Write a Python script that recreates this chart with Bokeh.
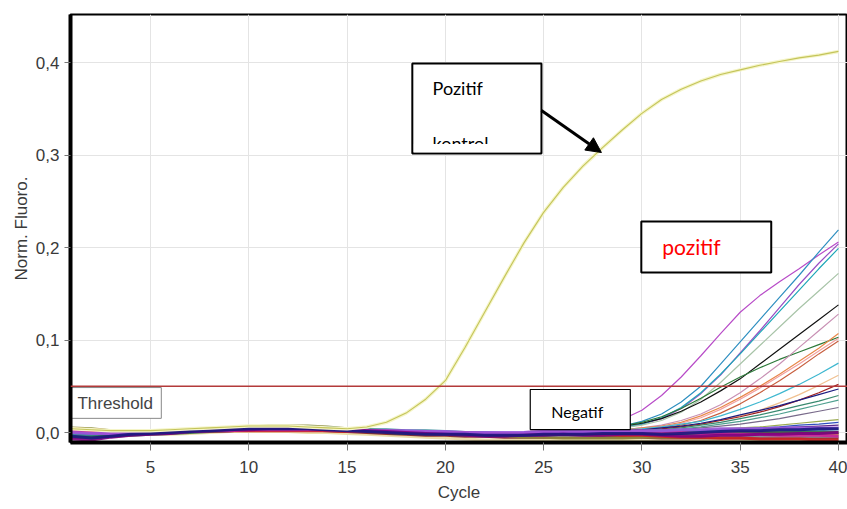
from bokeh.plotting import figure
from bokeh.models import Range1d, FixedTicker, CustomJSTickFormatter, Arrow, NormalHead, Span
from bokeh.core.properties import value
from bokeh.embed import file_html
from bokeh.resources import INLINE

# ---------------- data ----------------
cycles = list(range(1, 41))
sample_cycles = list(range(24, 41))
x_ticks = [5, 10, 15, 20, 25, 30, 35, 40]
y_ticks = [0.0, 0.1, 0.2, 0.3, 0.4]
threshold = 0.05

pos_control = [0.004, 0.003, 0.002, 0.002, 0.002, 0.003, 0.004, 0.005, 0.006, 0.007,
               0.007, 0.007, 0.006, 0.005, 0.004, 0.006, 0.011, 0.021, 0.036, 0.056,
               0.092, 0.130, 0.168, 0.205, 0.238, 0.265, 0.288, 0.308, 0.327, 0.345,
               0.360, 0.371, 0.380, 0.387, 0.392, 0.397, 0.401, 0.405, 0.408, 0.412]

# rising samples (cycles 24..40)
s_purple1 = [0.001, 0.002, 0.003, 0.005, 0.008, 0.014, 0.024, 0.040, 0.060, 0.083, 0.107, 0.130, 0.148, 0.163, 0.177, 0.192, 0.206]
s_purple2 = [0.000, 0.000, 0.001, 0.002, 0.003, 0.005, 0.009, 0.015, 0.026, 0.042, 0.062, 0.086, 0.110, 0.135, 0.160, 0.183, 0.204]
s_teal1 = [0.000, 0.001, 0.001, 0.002, 0.004, 0.007, 0.012, 0.020, 0.033, 0.050, 0.074, 0.098, 0.122, 0.146, 0.170, 0.195, 0.219]
s_teal2 = [0.000, 0.000, 0.001, 0.002, 0.003, 0.005, 0.009, 0.016, 0.027, 0.043, 0.063, 0.085, 0.108, 0.131, 0.154, 0.177, 0.199]
s_lightgreen = [0.000, 0.000, 0.001, 0.002, 0.003, 0.005, 0.008, 0.013, 0.022, 0.036, 0.054, 0.074, 0.094, 0.114, 0.134, 0.153, 0.172]
s_black = [0.000, 0.001, 0.002, 0.003, 0.005, 0.007, 0.010, 0.015, 0.023, 0.033, 0.045, 0.058, 0.074, 0.090, 0.106, 0.122, 0.138]
s_darkgreen = [0.000, 0.001, 0.002, 0.003, 0.005, 0.007, 0.011, 0.017, 0.026, 0.037, 0.049, 0.060, 0.070, 0.079, 0.087, 0.095, 0.103]
s_mauve = [0.000, 0.000, 0.000, 0.001, 0.002, 0.003, 0.005, 0.008, 0.013, 0.020, 0.030, 0.043, 0.058, 0.074, 0.092, 0.110, 0.128]
s_orange = [-0.001, 0.000, 0.000, 0.001, 0.002, 0.003, 0.005, 0.007, 0.011, 0.018, 0.027, 0.038, 0.050, 0.063, 0.077, 0.091, 0.107]
s_salmon = [0.000, 0.000, 0.000, 0.001, 0.001, 0.002, 0.004, 0.006, 0.010, 0.016, 0.025, 0.036, 0.048, 0.061, 0.074, 0.088, 0.102]
s_brownred = [-0.001, -0.001, 0.000, 0.000, 0.001, 0.002, 0.003, 0.005, 0.008, 0.013, 0.021, 0.031, 0.043, 0.056, 0.070, 0.085, 0.099]
s_cyan = [0.000, 0.000, 0.000, 0.001, 0.002, 0.003, 0.004, 0.006, 0.009, 0.012, 0.018, 0.025, 0.033, 0.042, 0.052, 0.063, 0.075]
s_peach = [0.000, 0.000, 0.000, 0.000, 0.001, 0.002, 0.003, 0.004, 0.006, 0.009, 0.013, 0.018, 0.024, 0.032, 0.041, 0.051, 0.062]
s_darkred = [0.000, 0.000, 0.000, 0.001, 0.001, 0.002, 0.003, 0.004, 0.006, 0.009, 0.013, 0.017, 0.022, 0.028, 0.035, 0.043, 0.052]
s_navy = [-0.001, -0.001, 0.000, 0.000, 0.001, 0.002, 0.003, 0.005, 0.007, 0.010, 0.014, 0.019, 0.024, 0.029, 0.035, 0.041, 0.047]
s_tealgreen = [0.000, 0.000, 0.000, 0.000, 0.001, 0.001, 0.002, 0.003, 0.005, 0.008, 0.011, 0.015, 0.019, 0.024, 0.029, 0.034, 0.040]
s_seagreen = [0.000, 0.000, 0.000, 0.000, 0.000, 0.001, 0.002, 0.003, 0.004, 0.006, 0.009, 0.012, 0.016, 0.020, 0.025, 0.030, 0.035]
s_graypurple = [0.000, 0.000, -0.001, -0.001, 0.000, 0.000, 0.001, 0.002, 0.003, 0.005, 0.007, 0.009, 0.012, 0.015, 0.019, 0.023, 0.027]
s_olive = [0.000, 0.000, 0.000, 0.000, 0.000, 0.000, 0.001, 0.001, 0.002, 0.003, 0.004, 0.005, 0.006, 0.008, 0.010, 0.012, 0.014]
s_blue = [-0.002, -0.002, -0.001, -0.001, 0.000, 0.000, 0.000, 0.001, 0.001, 0.002, 0.003, 0.004, 0.005, 0.006, 0.008, 0.009, 0.011]
s_darkpurple = [-0.001, -0.001, -0.001, 0.000, 0.000, 0.000, 0.000, 0.001, 0.001, 0.002, 0.002, 0.003, 0.004, 0.005, 0.006, 0.007, 0.008]

# flat / negative curves (cycles 1..40)
b_navy = [-0.004, -0.006, -0.004, -0.002, -0.001, 0.000, 0.001, 0.002, 0.003, 0.004, 0.004, 0.004, 0.004, 0.003, 0.002, 0.001, 0.000, -0.001, -0.002, -0.002,
          -0.002, -0.003, -0.003, -0.003, -0.002, -0.002, -0.002, -0.001, -0.001, -0.001, -0.002, -0.001, 0.000, 0.001, 0.002, 0.002, 0.003, 0.003, 0.004, 0.004]
b_purple = [-0.007, -0.008, -0.005, -0.003, -0.002, -0.001, 0.001, 0.002, 0.003, 0.003, 0.004, 0.004, 0.004, 0.003, 0.003, 0.002, 0.001, 0.000, -0.001, -0.002,
            -0.003, -0.004, -0.004, -0.003, -0.003, -0.002, -0.003, -0.003, -0.002, -0.002, -0.003, -0.004, -0.004, -0.003, -0.003, -0.002, -0.002, -0.001, -0.001, 0.000]
b_magenta = [0.002, 0.000, -0.001, -0.001, 0.000, 0.000, 0.001, 0.002, 0.002, 0.003, 0.003, 0.003, 0.003, 0.003, 0.002, 0.002, 0.002, 0.001, 0.001, 0.000,
             -0.001, -0.001, -0.002, -0.001, 0.000, 0.000, 0.000, 0.001, 0.001, 0.001, 0.000, 0.000, -0.001, -0.001, -0.002, -0.002, -0.003, -0.003, -0.003, -0.004]
b_red = [0.003, 0.002, 0.001, 0.000, 0.000, 0.001, 0.001, 0.002, 0.002, 0.002, 0.002, 0.002, 0.002, 0.002, 0.001, 0.001, 0.000, 0.000, 0.000, 0.000,
         0.000, -0.001, -0.001, -0.001, -0.001, -0.002, -0.002, -0.002, -0.003, -0.003, -0.004, -0.005, -0.005, -0.006, -0.006, -0.007, -0.007, -0.007, -0.008, -0.008]
b_olive = [0.005, 0.004, 0.002, 0.001, 0.001, 0.002, 0.003, 0.004, 0.005, 0.006, 0.007, 0.007, 0.007, 0.006, 0.004, 0.003, 0.002, 0.001, 0.000, -0.001,
           -0.002, -0.003, -0.004, -0.005, -0.005, -0.006, -0.006, -0.006, -0.006, -0.005, -0.005, -0.005, -0.004, -0.004, -0.004, -0.003, -0.003, -0.003, -0.002, -0.002]
b_teal = [-0.002, -0.003, -0.002, -0.001, 0.000, 0.001, 0.002, 0.003, 0.004, 0.005, 0.006, 0.006, 0.006, 0.005, 0.004, 0.003, 0.003, 0.002, 0.002, 0.001,
          0.000, 0.000, -0.001, -0.001, -0.001, 0.000, 0.000, 0.000, 0.001, 0.001, 0.001, 0.001, 0.002, 0.002, 0.002, 0.003, 0.003, 0.003, 0.003, 0.004]
b_tan = [0.001, 0.000, -0.001, -0.002, -0.002, -0.002, -0.001, 0.000, 0.001, 0.001, 0.001, 0.001, 0.000, 0.000, -0.001, -0.002, -0.003, -0.004, -0.005, -0.006,
         -0.007, -0.008, -0.008, -0.008, -0.008, -0.008, -0.008, -0.008, -0.008, -0.009, -0.009, -0.009, -0.009, -0.009, -0.009, -0.009, -0.009, -0.009, -0.009, -0.009]
b_darkred = [-0.001, -0.003, -0.003, -0.002, -0.001, 0.000, 0.001, 0.001, 0.002, 0.003, 0.003, 0.003, 0.003, 0.002, 0.001, 0.000, -0.001, -0.002, -0.003, -0.003,
             -0.004, -0.004, -0.005, -0.005, -0.005, -0.005, -0.005, -0.005, -0.005, -0.005, -0.006, -0.006, -0.006, -0.006, -0.006, -0.006, -0.006, -0.006, -0.006, -0.006]
b_orange = [0.004, 0.003, 0.002, 0.001, 0.001, 0.001, 0.002, 0.003, 0.004, 0.005, 0.005, 0.005, 0.005, 0.004, 0.003, 0.002, 0.001, 0.000, -0.001, -0.001,
            -0.002, -0.002, -0.002, -0.002, -0.002, -0.001, -0.001, -0.001, -0.001, -0.001, -0.001, -0.001, -0.001, -0.001, -0.001, -0.001, -0.001, -0.001, -0.001, -0.001]
b_gray = [-0.003, -0.004, -0.003, -0.002, -0.001, 0.000, 0.001, 0.002, 0.003, 0.004, 0.005, 0.005, 0.005, 0.004, 0.003, 0.002, 0.002, 0.001, 0.000, -0.001,
          -0.002, -0.002, -0.003, -0.003, -0.003, -0.003, -0.003, -0.002, -0.002, -0.002, -0.002, -0.002, -0.003, -0.003, -0.003, -0.004, -0.004, -0.004, -0.004, -0.004]
b_violet = [0.000, -0.001, -0.001, 0.000, 0.000, 0.001, 0.002, 0.003, 0.003, 0.004, 0.004, 0.004, 0.004, 0.004, 0.003, 0.002, 0.002, 0.002, 0.001, 0.001,
            0.000, 0.000, 0.000, 0.000, 0.001, 0.001, 0.001, 0.001, 0.001, 0.002, 0.002, 0.003, 0.003, 0.004, 0.004, 0.004, 0.005, 0.005, 0.005, 0.005]
b_darkgreen = [-0.005, -0.005, -0.004, -0.003, -0.002, -0.001, 0.000, 0.001, 0.002, 0.003, 0.004, 0.004, 0.004, 0.003, 0.002, 0.001, 0.000, -0.001, -0.001, -0.002,
               -0.003, -0.003, -0.003, -0.003, -0.003, -0.002, -0.002, -0.002, -0.002, -0.002, -0.001, -0.001, -0.001, -0.001, 0.000, 0.000, 0.000, 0.000, 0.000, 0.000]

# ---------------- figure ----------------
p = figure(width=847, height=509, output_backend="svg", toolbar_location=None,
           x_range=Range1d(0.93, 40.46), y_range=Range1d(-0.0108, 0.4519),
           min_border_left=70, min_border_right=0, min_border_top=14, min_border_bottom=67)
p.background_fill_color = "white"
p.border_fill_color = "white"
p.outline_line_color = "black"
p.outline_line_width = 2

p.xaxis.ticker = FixedTicker(ticks=x_ticks)
p.yaxis.ticker = FixedTicker(ticks=y_ticks)
p.yaxis.formatter = CustomJSTickFormatter(code="return tick.toFixed(1).replace('.', ',');")
for ax in (p.xaxis, p.yaxis):
    ax.axis_line_color = "black"
    ax.axis_line_width = 4
    ax.major_tick_line_color = "#777777"
    ax.major_tick_out = 6
    ax.major_tick_in = 0
    ax.minor_tick_line_color = None
    ax.major_label_text_font = "Liberation Sans"
    ax.major_label_text_font_size = "17px"
    ax.major_label_text_color = "#3a3a3a"
    ax.axis_label_text_font = "Liberation Sans"
    ax.axis_label_text_font_size = "17px"
    ax.axis_label_text_font_style = "normal"
    ax.axis_label_text_color = "#3a3a3a"
p.xaxis.major_tick_out = 8
p.xaxis.major_label_standoff = 10
p.yaxis.major_label_standoff = 5
p.xaxis.axis_label = "Cycle"
p.yaxis.axis_label = "Norm. Fluoro."
p.xaxis.axis_label_standoff = 7
p.yaxis.axis_label_standoff = 2
p.xgrid.grid_line_color = "#e4e4e4"
p.ygrid.grid_line_color = "#e4e4e4"

samples = [
    (s_purple1, "#b84cc8"), (s_purple2, "#9a4ec4"), (s_teal1, "#2e8fc0"), (s_teal2, "#1fa7b8"),
    (s_lightgreen, "#a8c4a8"), (s_black, "#111111"), (s_darkgreen, "#2d7a3a"), (s_mauve, "#c890b4"),
    (s_orange, "#e8884a"), (s_salmon, "#f2a0a0"), (s_brownred, "#c86040"), (s_cyan, "#40b8d0"),
    (s_peach, "#f0c090"), (s_darkred, "#a02020"), (s_navy, "#1c1c80"), (s_tealgreen, "#3a8a70"),
    (s_seagreen, "#50a090"), (s_graypurple, "#786a8a"), (s_olive, "#9aaa50"), (s_blue, "#3050c0"),
    (s_darkpurple, "#5a2a8a"),
]
for vals, col in samples:
    p.line(sample_cycles, vals, line_color=col, line_width=1.2)

flats = [
    (b_tan, "#e8d8a0"), (b_darkred, "#882222"), (b_olive, "#8c8c3a"), (b_orange, "#e89040"),
    (b_gray, "#8a8a9a"), (b_teal, "#338899"), (b_darkgreen, "#336644"), (b_red, "#cc2222"),
    (b_magenta, "#cc2299"), (b_violet, "#9955dd"), (b_purple, "#800080"), (b_navy, "#1a1a80"),
]
for vals, col in flats:
    p.line(cycles, vals, line_color=col, line_width=3, line_alpha=0.9)

# positive control with pale glow
p.line(cycles, pos_control, line_color="#f5f5c8", line_width=3.5)
p.line(cycles, pos_control, line_color="#c4c45a", line_width=1.1)

p.add_layout(Span(location=threshold, dimension="width", line_color="#b33a3a", line_width=1.5))

# ---------------- annotations ----------------
# Threshold label
p.quad(left=[0.98], right=[5.55], bottom=[0.0153], top=[0.0486],
       fill_color="white", line_color="#888888", line_width=1)
p.text(x=[1.28], y=[0.0319], text=["Threshold"], text_font=value("Liberation Sans"),
       text_font_size="17px", text_color="#444444", text_baseline="middle", text_align="left")

# Pozitif kontrol box
p.quad(left=[18.32], right=[24.89], bottom=[0.3016], top=[0.3989],
       fill_color="white", line_color="black", line_width=2)
p.text(x=[19.35], y=[0.3724], text=["Pozitif"], text_font=value("Lato"),
       text_font_size="18px", text_color="black", text_baseline="middle", text_align="left")
p.text(x=[19.35], y=[0.3130], text=["kontrol"], text_font=value("Lato"),
       text_font_size="18px", text_color="black", text_baseline="middle", text_align="left")
p.quad(left=[18.40], right=[24.81], bottom=[0.3030], top=[0.3119],
       fill_color="white", line_color=None)
p.add_layout(Arrow(end=NormalHead(size=15, fill_color="black", line_color="black"),
                   x_start=24.89, y_start=0.3481, x_end=27.94, y_end=0.3027,
                   line_color="black", line_width=3))

# pozitif box
p.quad(left=[29.97], right=[36.58], bottom=[0.1730], top=[0.2281],
       fill_color="white", line_color="black", line_width=2)
p.text(x=[31.04], y=[0.2011], text=["pozitif"], text_font=value("Lato"),
       text_font_size="21px", text_color="#ff0000", text_baseline="middle", text_align="left")

# Negatif box
p.quad(left=[24.32], right=[29.41], bottom=[0.0032], top=[0.0465],
       fill_color="white", line_color="black", line_width=1.2)
p.text(x=[25.39], y=[0.0227], text=["Negatif"], text_font=value("Lato"),
       text_font_size="16px", text_color="black", text_baseline="middle", text_align="left")

open("out.html", "w").write(file_html(p, INLINE))
